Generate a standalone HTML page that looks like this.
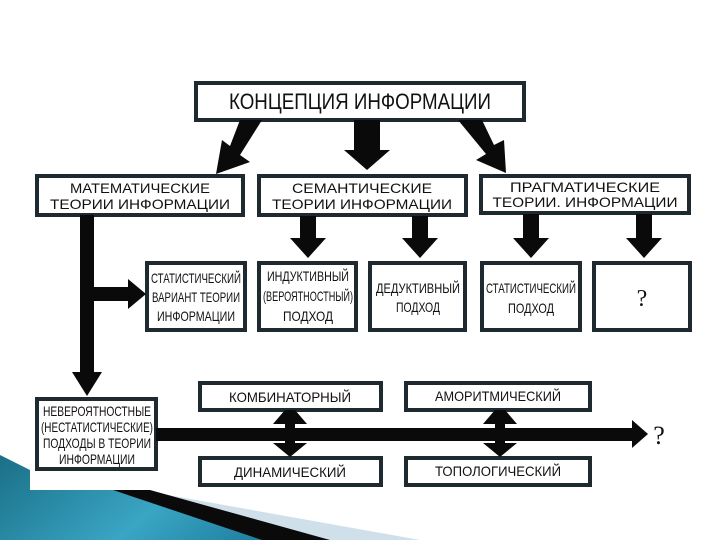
<!DOCTYPE html>
<html><head><meta charset="utf-8"><style>
html,body{margin:0;padding:0;background:#fff}
svg{display:block}
text{font-family:"Liberation Sans Narrow","Liberation Sans",sans-serif;fill:#111;text-anchor:middle}
</style></head><body>
<svg width="720" height="540" viewBox="0 0 720 540" xmlns="http://www.w3.org/2000/svg">
<defs><linearGradient id="tg" x1="0" y1="0" x2="1" y2="0.3"><stop offset="0" stop-color="#1a6f86"/><stop offset="0.6" stop-color="#3aa5c4"/><stop offset="1" stop-color="#1f7fa0"/></linearGradient></defs>
<rect width="720" height="540" fill="#fff"/>
<polygon points="0,455 30,470 30,490 113,490 330,540 0,540" fill="url(#tg)"/>
<polygon points="140,490 420,540 330,540 180,500" fill="#cfe0ea"/>
<polygon points="113,490 150,490 330,540 262,540" fill="#0a0a0a"/>
<g fill="#fff" stroke="#1e2a30" stroke-width="4">
<rect x="196" y="83" width="328" height="37"/>
<rect x="37" y="176" width="206" height="39"/>
<rect x="259" y="176" width="207" height="39"/>
<rect x="481" y="176" width="208" height="37"/>
<rect x="147" y="263" width="98" height="67"/>
<rect x="259" y="263" width="97" height="67"/>
<rect x="370" y="263" width="95" height="67"/>
<rect x="482" y="263" width="98" height="67"/>
<rect x="594" y="263" width="96" height="67"/>
<rect x="37" y="399" width="119" height="70"/>
<rect x="200" y="383" width="181" height="27"/>
<rect x="406" y="383" width="184" height="27"/>
<rect x="200" y="458" width="181" height="27"/>
<rect x="406" y="458" width="184" height="27"/>
</g>
<g fill="#0a0a0a">
<polygon points="240,120 262,120 240,155 250,162 216,174 222,140 230,146"/>
<polygon points="354,120 380,120 380,150 390,150 367,170 344,150 354,150"/>
<polygon points="458,120 482,120 494,145 504,140 506,173 476,160 486,154"/>
<polygon points="300,216 316,216 316,238 326,238 308,258 290,238 300,238"/>
<polygon points="412,216 428,216 428,238 438,238 420,258 402,238 412,238"/>
<polygon points="523,214 539,214 539,238 549,238 531,258 513,238 523,238"/>
<polygon points="636,214 652,214 652,238 662,238 644,258 626,238 636,238"/>
<polygon points="80,215 94,215 94,372 102,372 87,396 72,372 80,372"/>
<polygon points="94,287 128,287 128,279 146,294 128,309 128,301 94,301"/>
<rect x="156" y="428" width="478" height="13"/>
<polygon points="632,420 648,434 632,448"/>
<polygon points="285,410 295,410 307,424 295,424 295,443 307,443 290,457 273,443 285,443 285,424 273,424"/>
<polygon points="495,410 505,410 517,424 505,424 505,443 517,443 500,457 483,443 495,443 495,424 483,424"/>
</g>
<text x="360" y="109" font-size="22" textLength="262" lengthAdjust="spacingAndGlyphs">КОНЦЕПЦИЯ ИНФОРМАЦИИ</text>
<g font-size="14">
<text x="140" y="193" textLength="140" lengthAdjust="spacingAndGlyphs">МАТЕМАТИЧЕСКИЕ</text>
<text x="140" y="209" textLength="180" lengthAdjust="spacingAndGlyphs">ТЕОРИИ ИНФОРМАЦИИ</text>
<text x="362" y="193" textLength="140" lengthAdjust="spacingAndGlyphs">СЕМАНТИЧЕСКИЕ</text>
<text x="362" y="209" textLength="180" lengthAdjust="spacingAndGlyphs">ТЕОРИИ ИНФОРМАЦИИ</text>
<text x="585" y="192" textLength="150" lengthAdjust="spacingAndGlyphs">ПРАГМАТИЧЕСКИЕ</text>
<text x="585" y="207" textLength="185" lengthAdjust="spacingAndGlyphs">ТЕОРИИ. ИНФОРМАЦИИ</text>
</g>
<g font-size="14">
<text x="196" y="283" textLength="90" lengthAdjust="spacingAndGlyphs">СТАТИСТИЧЕСКИЙ</text>
<text x="196" y="302" textLength="88" lengthAdjust="spacingAndGlyphs">ВАРИАНТ ТЕОРИИ</text>
<text x="196" y="321" textLength="78" lengthAdjust="spacingAndGlyphs">ИНФОРМАЦИИ</text>
<text x="308" y="281" textLength="82" lengthAdjust="spacingAndGlyphs">ИНДУКТИВНЫЙ</text>
<text x="308" y="301" textLength="90" lengthAdjust="spacingAndGlyphs">(ВЕРОЯТНОСТНЫЙ)</text>
<text x="308" y="321" textLength="50" lengthAdjust="spacingAndGlyphs">ПОДХОД</text>
<text x="418" y="293" textLength="84" lengthAdjust="spacingAndGlyphs">ДЕДУКТИВНЫЙ</text>
<text x="418" y="312" textLength="44" lengthAdjust="spacingAndGlyphs">ПОДХОД</text>
<text x="531" y="293" textLength="90" lengthAdjust="spacingAndGlyphs">СТАТИСТИЧЕСКИЙ</text>
<text x="531" y="313" textLength="46" lengthAdjust="spacingAndGlyphs">ПОДХОД</text>
<text x="97" y="416" textLength="108" lengthAdjust="spacingAndGlyphs">НЕВЕРОЯТНОСТНЫЕ</text>
<text x="97" y="432" textLength="112" lengthAdjust="spacingAndGlyphs">(НЕСТАТИСТИЧЕСКИЕ)</text>
<text x="97" y="448" textLength="108" lengthAdjust="spacingAndGlyphs">ПОДХОДЫ В ТЕОРИИ</text>
<text x="97" y="464" textLength="76" lengthAdjust="spacingAndGlyphs">ИНФОРМАЦИИ</text>
</g>
<g font-size="14">
<text x="290" y="402" textLength="122" lengthAdjust="spacingAndGlyphs">КОМБИНАТОРНЫЙ</text>
<text x="498" y="401" textLength="126" lengthAdjust="spacingAndGlyphs">АМОРИТМИЧЕСКИЙ</text>
<text x="290" y="477" textLength="112" lengthAdjust="spacingAndGlyphs">ДИНАМИЧЕСКИЙ</text>
<text x="498" y="476" textLength="126" lengthAdjust="spacingAndGlyphs">ТОПОЛОГИЧЕСКИЙ</text>
</g>
<text x="642" y="306" font-size="24" style="font-family:'Liberation Serif',serif">?</text>
<text x="659" y="444" font-size="26" style="font-family:'Liberation Serif',serif">?</text>
</svg>
</body></html>
